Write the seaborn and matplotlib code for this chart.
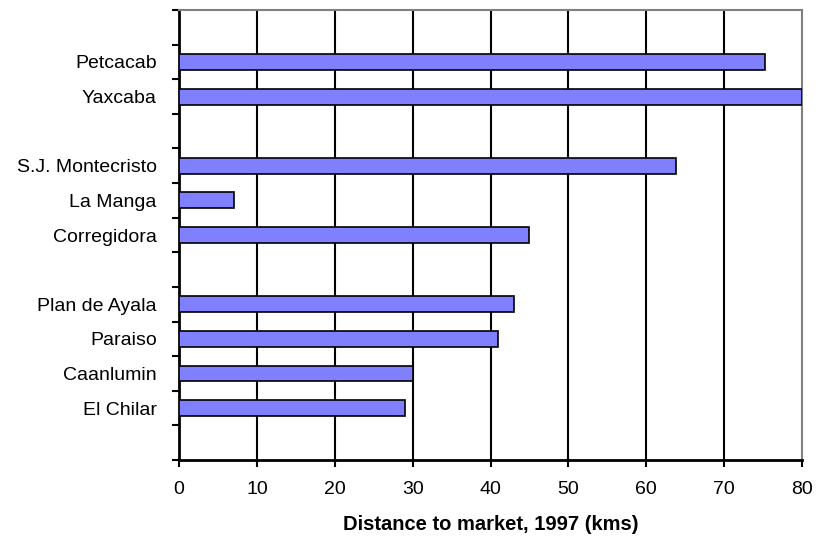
import matplotlib
matplotlib.use("Agg")
import matplotlib.pyplot as plt
import seaborn as sns
import pandas as pd
import numpy as np

# Villages listed top to bottom; blank strings are spacer rows between groups
slots = ["", "Petcacab", "Yaxcaba", " ", "S.J. Montecristo", "La Manga", "Corregidora",
         "  ", "Plan de Ayala", "Paraiso", "Caanlumin", "El Chilar", "   "]
villages = ["Petcacab", "Yaxcaba", "S.J. Montecristo", "La Manga", "Corregidora",
            "Plan de Ayala", "Paraiso", "Caanlumin", "El Chilar"]
distance_km = [75.2, 80, 63.8, 7.1, 45, 43, 41, 30, 29]
x_ticks = [0, 10, 20, 30, 40, 50, 60, 70, 80]

sns.set_theme(style="white")
plt.rcParams["font.family"] = ["Liberation Sans", "DejaVu Sans"]
plt.rcParams["text.color"] = "black"
plt.rcParams["axes.labelcolor"] = "black"
plt.rcParams["xtick.color"] = "black"
plt.rcParams["ytick.color"] = "black"

df = pd.DataFrame({"village": villages, "distance": distance_km})

fig = plt.figure(figsize=(8.19, 5.40), dpi=100)
ax = fig.add_axes([179 / 819, 1 - 460 / 540, (802 - 179) / 819, 450 / 540])

sns.barplot(data=df, y="village", x="distance", order=slots, orient="h",
            color="#8080FF", saturation=1, width=0.46,
            edgecolor="black", linewidth=1.2, ax=ax, zorder=3)

ax.set_xlim(0, 80)
ax.set_ylim(len(slots) - 0.5, -0.5)
ax.set_xticks(x_ticks)
ax.set_xticklabels([str(t) for t in x_ticks], fontsize=14)

# vertical gridlines
ax.grid(False)
for t in x_ticks[1:-1]:
    ax.axvline(t, color="black", linewidth=1.5, zorder=1)

# category labels centred, tick marks on slot boundaries
ax.set_yticks(range(len(slots)))
ax.set_yticklabels(slots, fontsize=14)
ax.set_yticks(np.arange(-0.5, len(slots), 1.0), minor=True)
ax.tick_params(axis="y", which="major", length=0, pad=16)
ax.tick_params(axis="y", which="minor", left=True, length=5, width=1.5, color="black")
ax.tick_params(axis="x", which="major", bottom=True, length=5, width=1.5, color="black", pad=10)

ax.set_ylabel("")
ax.set_xlabel("Distance to market, 1997 (kms)", fontsize=14.5, fontweight="bold", labelpad=12)

for side in ["left", "bottom"]:
    ax.spines[side].set_color("black")
    ax.spines[side].set_linewidth(2)
for side in ["top", "right"]:
    ax.spines[side].set_color("#808080")
    ax.spines[side].set_linewidth(1.5)

fig.savefig("out.png", dpi=100)
